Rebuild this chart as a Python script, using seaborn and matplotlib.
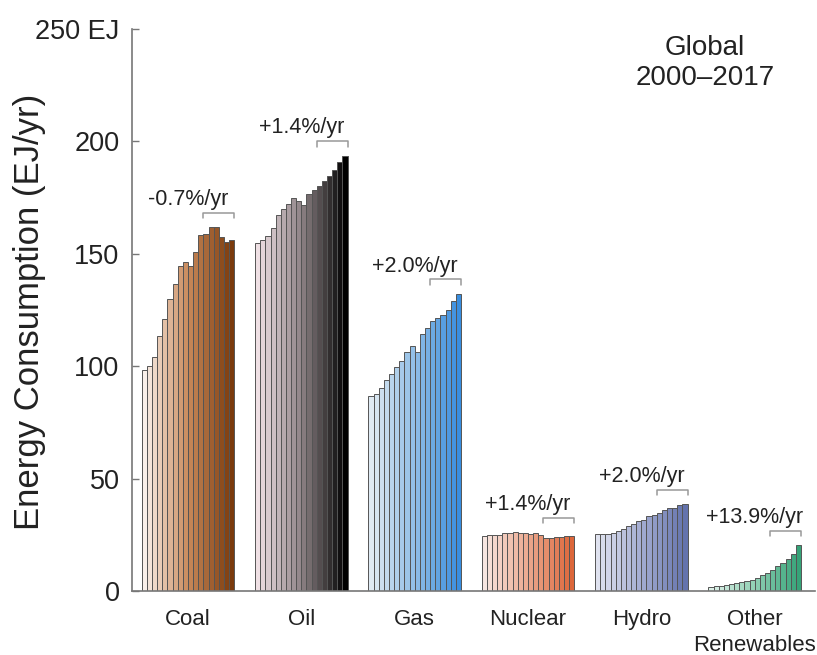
import matplotlib
matplotlib.use("Agg")
import matplotlib.pyplot as plt
from matplotlib.colors import LinearSegmentedColormap
import numpy as np
import pandas as pd
import seaborn as sns

years = [str(y) for y in range(2000, 2018)]
fuels = ["Coal", "Oil", "Gas", "Nuclear", "Hydro", "Other\nRenewables"]

coal = [98.5, 100.0, 104.0, 113.4, 121.0, 130.0, 136.6, 144.5, 146.2, 144.5,
        150.7, 158.5, 159.0, 161.8, 161.8, 157.6, 155.1, 156.2]
oil = [154.8, 156.3, 157.8, 161.5, 167.4, 169.9, 172.2, 174.7, 173.6, 171.7,
       176.6, 178.4, 180.3, 182.5, 184.7, 187.4, 190.9, 193.6]
gas = [86.6, 87.8, 90.4, 93.7, 96.7, 99.6, 102.3, 106.3, 109.2, 106.3,
       114.4, 116.9, 119.9, 121.5, 122.6, 125.1, 128.9, 132.2]
nuclear = [24.3, 24.8, 25.1, 25.0, 25.8, 25.9, 26.1, 25.8, 25.7, 25.4,
           25.8, 25.0, 23.4, 23.5, 23.8, 24.0, 24.3, 24.5]
hydro = [25.2, 25.2, 25.2, 25.6, 26.8, 27.8, 28.9, 29.6, 31.2, 31.5,
         33.3, 33.7, 34.9, 36.0, 36.7, 37.0, 38.2, 38.6]
renewables = [2.0, 2.2, 2.4, 2.7, 3.0, 3.4, 3.8, 4.4, 5.1, 5.9,
              7.0, 8.2, 9.5, 11.0, 12.5, 14.2, 16.6, 20.4]

growth = ["-0.7%/yr", "+1.4%/yr", "+2.0%/yr", "+1.4%/yr", "+2.0%/yr", "+13.9%/yr"]

# light -> mid -> dark colour of each fuel
shades = [
    ["#faf0ea", "#c9895a", "#7a3a0c"],
    ["#efe0e4", "#8e8386", "#000000"],
    ["#dfeaf3", "#8fbde6", "#3a8edf"],
    ["#f7e6e1", "#eba88e", "#dc663a"],
    ["#dfe2ef", "#a3acd1", "#6473ad"],
    ["#dcf0e7", "#8fcfb3", "#36a378"],
]

series = [coal, oil, gas, nuclear, hydro, renewables]
rows = []
for f, vals in zip(fuels, series):
    for y, v in zip(years, vals):
        rows.append({"fuel": f, "year": y, "value": v})
df = pd.DataFrame(rows)

sns.set_theme(style="white")
plt.rcParams["font.family"] = ["Liberation Sans", "DejaVu Sans"]

fig = plt.figure(figsize=(8.17, 6.55), dpi=100)
ax = fig.add_axes([132 / 817, 1 - 591 / 655, (815 - 132) / 817, (591 - 29) / 655])

width = 0.816
sns.barplot(data=df, x="fuel", y="value", hue="year", order=fuels, hue_order=years,
            width=width, dodge=True, legend=False, ax=ax,
            edgecolor="#555555", linewidth=0.7, saturation=1)

n = len(years)
cmaps = [LinearSegmentedColormap.from_list(f, s) for f, s in zip(fuels, shades)]
for j, cont in enumerate(ax.containers):
    t = j / (n - 1)
    for i, bar in enumerate(cont):
        bar.set_facecolor(cmaps[i](t))

# brackets over the last six years with growth rate
bw = width / n
for i, vals in enumerate(series):
    top = max(vals) + 6.5
    x1 = i + width / 2
    x0 = x1 - 6 * bw
    ax.plot([x0, x0, x1, x1], [top - 2.5, top, top, top - 2.5], color="#999999", lw=1.1)
    ax.text(i, top + 1.2, growth[i], ha="center", va="bottom", fontsize=15.5, color="#222222")

ax.set_xlim(-0.494, 5.532)
ax.set_ylim(0, 250)
ax.set_yticks([0, 50, 100, 150, 200, 250])
ax.set_yticklabels(["0", "50", "100", "150", "200", "250 EJ"])
ax.tick_params(axis="y", direction="in", length=5, width=1, color="#777777",
               labelsize=19.5, pad=9, labelcolor="#222222", left=True)
ax.tick_params(axis="x", length=0, labelsize=16, pad=13, labelcolor="#222222")
for lab in ax.get_xticklabels():
    lab.set_linespacing(1.3)
ax.set_xlabel("")
ax.set_ylabel("")

for s in ["top", "right"]:
    ax.spines[s].set_visible(False)
for s in ["left", "bottom"]:
    ax.spines[s].set_color("#777777")
    ax.spines[s].set_linewidth(1.2)

fig.text(30 / 817, 1 - 312 / 655, "Energy Consumption (EJ/yr)", rotation=90,
         ha="center", va="center", fontsize=25, color="#222222")
fig.text(705 / 817, 1 - 63 / 655, "Global\n2000\u20132017", ha="center", va="center",
         fontsize=20, color="#222222", linespacing=1.2)

fig.savefig("out.png", dpi=100)
